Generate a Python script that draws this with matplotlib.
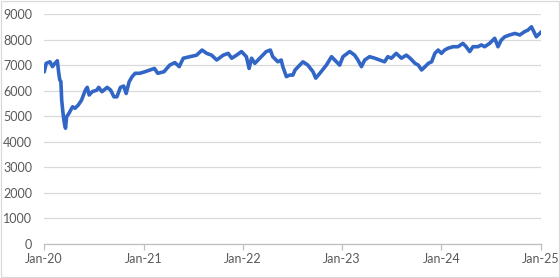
import matplotlib
matplotlib.use("Agg")
import matplotlib.pyplot as plt
import matplotlib.dates as mdates
from matplotlib.patches import Rectangle
import pandas as pd

dates = [
    "2020-01-02", "2020-01-09", "2020-01-16", "2020-01-23", "2020-02-01", "2020-02-10",
    "2020-02-19", "2020-02-24", "2020-02-28", "2020-03-03", "2020-03-06", "2020-03-12",
    "2020-03-16", "2020-03-20", "2020-03-24", "2020-04-01", "2020-04-08", "2020-04-15",
    "2020-04-24", "2020-05-06", "2020-05-18", "2020-06-01", "2020-06-08", "2020-06-15",
    "2020-06-26", "2020-07-13", "2020-07-20", "2020-08-01", "2020-08-20", "2020-09-02",
    "2020-09-14", "2020-09-25", "2020-10-08", "2020-10-20", "2020-10-29", "2020-11-09",
    "2020-11-20", "2020-12-01", "2020-12-18", "2021-01-06", "2021-01-25", "2021-02-10",
    "2021-02-22", "2021-03-17", "2021-04-07", "2021-04-26", "2021-05-12", "2021-05-27",
    "2021-06-20", "2021-07-15", "2021-08-04", "2021-08-21", "2021-09-08", "2021-09-27",
    "2021-10-21", "2021-11-08", "2021-11-21", "2021-12-09", "2021-12-27", "2022-01-14",
    "2022-01-24", "2022-02-02", "2022-02-14", "2022-02-26", "2022-03-10", "2022-03-28",
    "2022-04-12", "2022-04-21", "2022-05-10", "2022-05-22", "2022-05-28", "2022-06-10",
    "2022-06-22", "2022-07-04", "2022-07-12", "2022-08-10", "2022-08-28", "2022-09-16",
    "2022-09-26", "2022-10-11", "2022-11-04", "2022-11-23", "2022-12-05", "2022-12-23",
    "2023-01-04", "2023-01-29", "2023-02-16", "2023-02-28", "2023-03-13", "2023-03-25",
    "2023-04-12", "2023-05-01", "2023-05-19", "2023-06-06", "2023-06-18", "2023-07-01",
    "2023-07-19", "2023-08-07", "2023-08-25", "2023-09-08", "2023-09-26", "2023-10-08",
    "2023-10-20", "2023-11-02", "2023-11-14", "2023-11-26", "2023-12-08", "2023-12-20",
    "2024-01-01", "2024-01-13", "2024-01-25", "2024-02-13", "2024-03-02", "2024-03-20",
    "2024-04-01", "2024-04-14", "2024-04-26", "2024-05-14", "2024-05-27", "2024-06-08",
    "2024-06-26", "2024-07-15", "2024-07-27", "2024-08-08", "2024-08-21", "2024-09-08",
    "2024-09-27", "2024-10-15", "2024-11-02", "2024-11-14", "2024-11-27", "2024-12-03",
    "2024-12-15", "2024-12-27", "2025-01-03",
]
values = [
    6740, 7070, 7100, 7130, 6940, 7070,
    7170, 6700, 6420, 6360, 5630, 5000,
    4720, 4530, 4980, 5100, 5240, 5370,
    5310, 5440, 5630, 6020, 6130, 5830,
    5960, 6020, 6130, 5960, 6130, 6020,
    5760, 5760, 6130, 6180, 5890, 6350,
    6550, 6680, 6680, 6740, 6810, 6870,
    6680, 6740, 7000, 7100, 6940, 7270,
    7330, 7390, 7590, 7460, 7390, 7200,
    7390, 7460, 7270, 7390, 7530, 7330,
    6870, 7270, 7070, 7200, 7330, 7530,
    7590, 7330, 7130, 7200, 6940, 6550,
    6610, 6610, 6810, 7130, 7000, 6740,
    6490, 6680, 7000, 7330, 7200, 7000,
    7330, 7530, 7390, 7200, 6940, 7200,
    7330, 7270, 7200, 7130, 7330, 7270,
    7460, 7270, 7390, 7270, 7070, 7000,
    6810, 6940, 7070, 7130, 7460, 7590,
    7460, 7590, 7660, 7720, 7720, 7850,
    7720, 7530, 7720, 7720, 7790, 7720,
    7850, 8050, 7720, 7980, 8110, 8180,
    8240, 8180, 8310, 8370, 8500, 8370,
    8110, 8240, 8310,
]
y_ticks = [0, 1000, 2000, 3000, 4000, 5000, 6000, 7000, 8000, 9000]
x_tick_years = [2020, 2021, 2022, 2023, 2024, 2025]

plt.rcParams['font.family'] = ['Lato', 'DejaVu Sans']

fig = plt.figure(figsize=(5.6, 2.78), dpi=100)
ax = fig.add_axes([0.0786, 0.1223, 0.966 - 0.0786, 0.9496 - 0.1223])

x = pd.to_datetime(dates)
ax.plot(x, values, color='#3266C6', lw=2.6, solid_joinstyle='round',
        solid_capstyle='round', zorder=3)

ax.set_ylim(0, 9000)
ax.set_yticks(y_ticks)
ax.set_xlim(pd.Timestamp("2020-01-01"), pd.Timestamp("2025-01-01"))
ax.set_xticks([pd.Timestamp(f"{yr}-01-01") for yr in x_tick_years])
ax.xaxis.set_major_formatter(mdates.DateFormatter('%b-%y'))

ax.grid(axis='y', color='#D9D9D9', lw=0.9)
ax.set_axisbelow(True)
for s in ['left', 'right', 'top']:
    ax.spines[s].set_visible(False)
ax.spines['bottom'].set_color('#BFBFBF')
ax.spines['bottom'].set_linewidth(0.9)
ax.tick_params(axis='y', length=0, pad=8.5, labelsize=9, labelcolor='#595959')
ax.tick_params(axis='x', length=4, width=0.9, color='#BFBFBF', direction='out',
               pad=2.5, labelsize=9, labelcolor='#595959')

fig.patches.append(Rectangle((0.001, 0.002), 0.997, 0.995, transform=fig.transFigure,
                             fill=False, edgecolor='#D9D9D9', lw=0.9))

fig.savefig('out.png', dpi=100)
